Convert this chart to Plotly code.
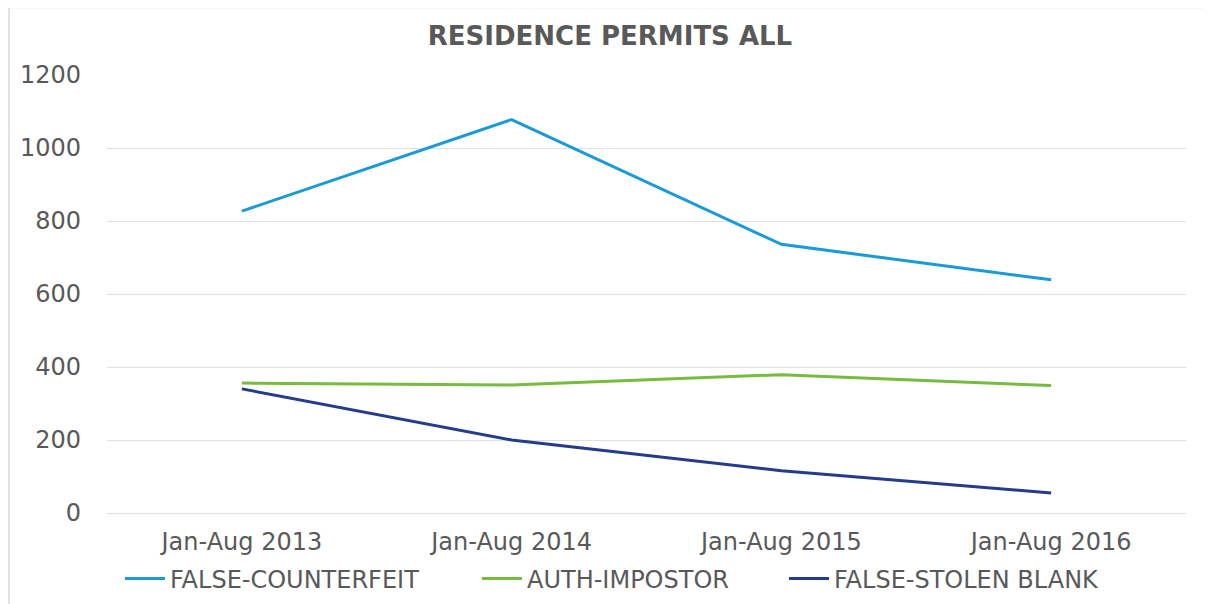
import plotly.graph_objects as go

categories = ["Jan-Aug 2013", "Jan-Aug 2014", "Jan-Aug 2015", "Jan-Aug 2016"]
false_counterfeit = [827, 1078, 736, 639]
auth_impostor = [356, 351, 379, 349]
false_stolen_blank = [340, 200, 116, 55]

names = ["FALSE-COUNTERFEIT", "AUTH-IMPOSTOR", "FALSE-STOLEN BLANK"]
colors = ["#1A9AD6", "#77BC41", "#253B8B"]
values = [false_counterfeit, auth_impostor, false_stolen_blank]

# page offset (body margin) of the html page
OFF = 8
W, H = 1211 - OFF, 604 - OFF
# plot area in page pixels: x 107..1186, y 75..513
L, R, T = 107 - OFF, 1211 - 1186, 75 - OFF
B = H - (513 - OFF)
pw, ph = W - L - R, H - T - B


def px_x(x):
    return (x - OFF - L) / pw


def px_y(y):
    return (H - B - (y - OFF)) / ph


def cx(x):
    return (x - OFF) / W


def cy(y):
    return 1 - (y - OFF) / H


font = "DejaVu Sans"
legend_keys = ["legend", "legend2", "legend3"]
legend_x = [120, 477, 784]

fig = go.Figure()
for name, vals, color, lk in zip(names, values, colors, legend_keys):
    fig.add_trace(go.Scatter(x=categories, y=vals, mode="lines", name=name,
                             line=dict(color=color, width=3), legend=lk))

layout = dict(
    width=W, height=H,
    margin=dict(l=L, r=R, t=T, b=B, autoexpand=False),
    paper_bgcolor="white", plot_bgcolor="white",
    font=dict(family=font, color="#595959", size=24),
    title=dict(text="<b>RESIDENCE PERMITS ALL</b>", x=px_x(610), xanchor="center", xref="paper",
               y=1 - (36 - OFF) / H, yanchor="middle",
               font=dict(size=26, color="#595959", family=font)),
    xaxis=dict(range=[-0.5, 3.5], showgrid=False, showline=False, ticks="",
               tickfont=dict(size=24, color="#595959"), ticklabelstandoff=12),
    yaxis=dict(range=[0, 1200], dtick=200, showgrid=True, gridcolor="#E0E0E0", gridwidth=1,
               zeroline=True, zerolinecolor="#E0E0E0", zerolinewidth=1, ticks="",
               tickfont=dict(size=24, color="#595959"), ticklabelstandoff=25),
    showlegend=True,
    shapes=[dict(type="rect", xref="paper", yref="paper",
                 x0=px_x(9), x1=px_x(1208), y0=px_y(640), y1=px_y(7.5),
                 line=dict(color="#D9D9D9", width=1.5), fillcolor="rgba(0,0,0,0)", layer="below")],
)
for lk, lx in zip(legend_keys, legend_x):
    layout[lk] = dict(orientation="h", xref="container", yref="container",
                      x=cx(lx), xanchor="left", y=cy(579), yanchor="middle",
                      font=dict(size=24, color="#595959", family=font),
                      bgcolor="rgba(0,0,0,0)", itemwidth=40)
fig.update_layout(**layout)

fig.write_html("out.html")
